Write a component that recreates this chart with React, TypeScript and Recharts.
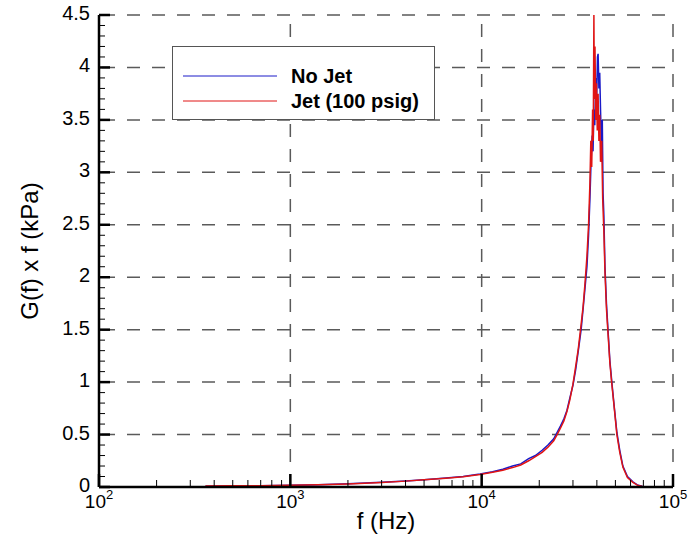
import React from 'react'
import { LineChart, Line, XAxis, YAxis, ReferenceLine, Legend, Label } from 'recharts'

// frequency (Hz) and G(f) x f (kPa)
const NOJET_F = [
  360, 500, 700, 1000, 1400, 2000, 3000, 4000, 5000, 6500, 8000, 9800, 11400, 12900, 14500,
  16000, 17600, 19100, 20700, 22200, 23800, 24800, 25800, 26900, 27900, 28900, 30000, 31000,
  32000, 33100, 33900, 34700, 35500, 36200, 36800, 37300, 37800, 38200, 38600, 39000, 39500,
  39900, 40300, 40600, 41000, 41400, 41800, 42200, 42700, 43100, 43500, 44100, 44900, 45800,
  46800, 47900, 49400, 50900, 52700, 54700, 57800, 61700, 65100, 69200,
]
const NOJET_G = [
  0.008, 0.01, 0.012, 0.016, 0.022, 0.03, 0.045, 0.058, 0.07, 0.085, 0.1, 0.124, 0.145, 0.17, 0.2,
  0.22, 0.27, 0.3, 0.35, 0.4, 0.46, 0.52, 0.58, 0.65, 0.73, 0.85, 0.97, 1.12,
  1.3, 1.5, 1.7, 1.9, 2.1, 2.4, 2.75, 3.1, 3.35, 3.2, 3.6, 3.45, 3.9,
  3.7, 4.1, 4.13, 3.8, 3.95, 3.6, 3.3, 3.5, 2.8, 2.6, 2.1, 1.75, 1.48,
  1.2, 1.0, 0.75, 0.52, 0.35, 0.2, 0.1, 0.05, 0.02, 0.008,
]

const JET_F = [
  360, 500, 700, 1000, 1400, 2000, 3000, 4000, 5000, 6500, 8000, 9800, 11400, 12900, 14500,
  16000, 17600, 19100, 20700, 22200, 23800, 24800, 25800, 26900, 27900, 28900, 30000, 31000,
  32000, 33100, 33900, 34700, 35500, 36200, 36800, 37200, 37600, 38000, 38300, 38600, 38800,
  39100, 39500, 39800, 40200, 40600, 41000, 41400, 41800, 42400, 42900, 43500, 44100, 44900,
  45800, 46800, 47900, 49400, 50900, 52700, 54700, 57800, 61700, 65100, 69200,
]
const JET_G = [
  0.01, 0.011, 0.013, 0.016, 0.021, 0.029, 0.043, 0.056, 0.068, 0.083, 0.098, 0.12, 0.14, 0.16, 0.185,
  0.21, 0.25, 0.29, 0.33, 0.38, 0.44, 0.5, 0.56, 0.63, 0.72, 0.83, 0.98, 1.15,
  1.32, 1.55, 1.72, 1.95, 2.2, 2.5, 2.9, 3.3, 3.05, 3.6, 3.3, 4.5, 3.7,
  4.2, 3.5, 3.85, 3.4, 3.75, 3.3, 3.55, 3.1, 3.3, 2.75, 2.45, 2.05, 1.7,
  1.45, 1.18, 0.98, 0.74, 0.5, 0.33, 0.19, 0.09, 0.045, 0.018, 0.005,
]

const X_MAJOR = [100, 1000, 10000, 100000]
const X_MINOR_MULT = [2, 3, 4, 5, 6, 7, 8, 9]
const Y_MAJOR = [0, 0.5, 1, 1.5, 2, 2.5, 3, 3.5, 4, 4.5]
const Y_MINOR_STEP = [0.1, 0.2, 0.3, 0.4]

const SERIES = [
  { name: 'No Jet', color: '#1a1ac8' },
  { name: 'Jet (100 psig)', color: '#e01414' },
]

const noJetData = NOJET_F.map((f, i) => ({ f, g: NOJET_G[i] }))
const jetData = JET_F.map((f, i) => ({ f, g: JET_G[i] }))

const xTicks = [
  ...X_MAJOR,
  ...X_MAJOR.slice(0, -1).flatMap(d => X_MINOR_MULT.map(m => d * m)),
].sort((a, b) => a - b)
const yTicks = [
  ...Y_MAJOR,
  ...Y_MAJOR.slice(0, -1).flatMap(v => Y_MINOR_STEP.map(s => +(v + s).toFixed(1))),
].sort((a, b) => a - b)

const FONT = '"Liberation Sans", Arial, sans-serif'
const GRID = { stroke: '#5a5a5a', strokeWidth: 1.5, strokeDasharray: '13 12' }

const XTick = (props: any) => {
  const { x, y, payload } = props
  const v = payload.value
  const major = X_MAJOR.includes(v)
  const exp = Math.round(Math.log10(v))
  return (
    <g>
      <line x1={x} x2={x} y1={y} y2={y - (major ? 13 : 7)} stroke="#000" strokeWidth={major ? 2.5 : 1} />
      {major && (
        <text x={x} y={y + 21} textAnchor="middle" fontSize={19} fontFamily={FONT} fill="#000">
          10<tspan dy={-9} fontSize={13}>{exp}</tspan>
        </text>
      )}
    </g>
  )
}

const YTick = (props: any) => {
  const { x, y, payload } = props
  const v = payload.value
  const major = Y_MAJOR.includes(v)
  return (
    <g>
      <line x1={x} x2={x + (major ? 11 : 6)} y1={y} y2={y} stroke="#000" strokeWidth={major ? 2.5 : 1} />
      {major && (
        <text x={x - 9} y={y - 2} textAnchor="end" dominantBaseline="central" fontSize={20} fontFamily={FONT} fill="#000">
          {v}
        </text>
      )}
    </g>
  )
}

const LegendBox = () => (
  <div style={{
    width: 263, height: 74, border: '1px solid #555', background: '#fff',
    boxSizing: 'border-box', position: 'relative', fontFamily: FONT,
  }}>
    {SERIES.map((s, i) => (
      <div key={s.name} style={{ position: 'absolute', left: 10, top: 18 + i * 25, display: 'flex', alignItems: 'center' }}>
        <svg width={94} height={4}><line x1={0} x2={94} y1={2} y2={2} stroke={s.color} strokeWidth={1} /></svg>
        <span style={{ marginLeft: 14, fontSize: 20, fontWeight: 'bold', lineHeight: '22px' }}>{s.name}</span>
      </div>
    ))}
  </div>
)

export default function App() {
  return (
    <div style={{ position: 'absolute', left: 0, top: 0, width: 689, height: 541, background: '#fff' }}>
      <LineChart width={689} height={541} margin={{ top: 15, right: 16, left: 0, bottom: 24 }}>
        <XAxis
          dataKey="f" type="number" scale="log" domain={[100, 100000]} allowDataOverflow
          ticks={xTicks} interval={0} tick={<XTick />} tickLine={false} tickSize={0} tickMargin={0}
          axisLine={{ stroke: '#000', strokeWidth: 2.5 }} height={30}
        >
          <Label
            content={(p: any) => (
              <text x={p.viewBox.x + p.viewBox.width / 2} y={p.viewBox.y + 42} textAnchor="middle"
                fontSize={24} fontFamily={FONT} fill="#000">f (Hz)</text>
            )}
          />
        </XAxis>
        <YAxis
          type="number" domain={[0, 4.5]} ticks={yTicks} interval={0} tick={<YTick />}
          tickLine={false} tickSize={0} tickMargin={0}
          axisLine={{ stroke: '#000', strokeWidth: 2.5 }} width={99}
        >
          <Label
            content={(p: any) => {
              const cy = p.viewBox.y + p.viewBox.height / 2
              return (
                <text x={38} y={cy} transform={`rotate(-90 38 ${cy})`} textAnchor="middle"
                  fontSize={24} fontFamily={FONT} fill="#000">G(f) x f (kPa)</text>
              )
            }}
          />
        </YAxis>
        {Y_MAJOR.slice(1).map(v => (
          <ReferenceLine key={'y' + v} y={v} {...GRID} strokeDashoffset={22} />
        ))}
        {X_MAJOR.slice(1).map(v => (
          <ReferenceLine key={'x' + v} x={v} {...GRID} />
        ))}
        <Line data={noJetData} dataKey="g" name={SERIES[0].name} stroke={SERIES[0].color}
          strokeWidth={1.5} dot={false} isAnimationActive={false} type="linear" />
        <Line data={jetData} dataKey="g" name={SERIES[1].name} stroke={SERIES[1].color}
          strokeWidth={1.5} dot={false} isAnimationActive={false} type="linear" />
        <Legend
          layout="horizontal" verticalAlign="middle" align="center"
          wrapperStyle={{ position: 'absolute', left: 172, top: 46, width: 265, height: 76 }}
          content={() => <LegendBox />}
        />
      </LineChart>
    </div>
  )
}
